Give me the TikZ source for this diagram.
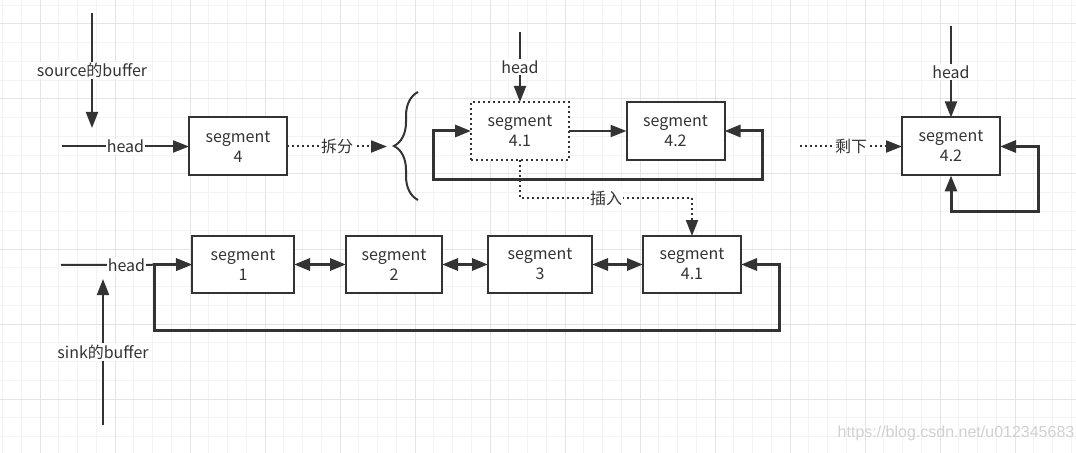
\documentclass[tikz,border=0pt]{standalone}
\usepackage{fontspec}
\setmainfont{Noto Sans CJK SC}
\newfontfamily\wmfont{Liberation Sans}
\usetikzlibrary{arrows.meta,calc,decorations.pathreplacing}
\definecolor{ink}{HTML}{333333}
\definecolor{gridminor}{HTML}{F3F3F3}
\definecolor{gridmajor}{HTML}{E4E4E4}

\begin{document}
\begin{tikzpicture}[x=0.75pt,y=-0.75pt,
  font=\fontsize{12}{15}\selectfont,
  >={Triangle[length=12pt,width=9pt]},
  seg/.style={draw=ink,line width=1.5pt,fill=white,text=ink,align=center,
    minimum width=73.5pt,minimum height=43.5pt,inner sep=0pt,outer sep=0pt},
  segdot/.style={seg,dash pattern=on 1.5pt off 2.25pt},
  segb/.style={seg,minimum height=42.75pt},
  link/.style={draw=ink,line width=1.5pt},
  ring/.style={draw=ink,line width=2.25pt},
  dotline/.style={draw=ink,line width=1.5pt,dash pattern=on 1.5pt off 2.25pt},
  lbl/.style={fill=white,text=ink,inner sep=1pt}]

% Background and grid
\fill[white] (0,0) rectangle (1076,453);
\useasboundingbox (0,0) rectangle (1076,453);
\foreach \k in {0,...,57} \draw[gridminor,line width=0.75pt] ({2.5+18.75*\k},0) -- ({2.5+18.75*\k},453);
\foreach \k in {0,...,23} \draw[gridminor,line width=0.75pt] (0,{5.25+18.75*\k}) -- (1076,{5.25+18.75*\k});
\foreach \k in {2,6,...,57} \draw[gridmajor,line width=0.75pt] ({2.5+18.75*\k},0) -- ({2.5+18.75*\k},453);
\foreach \k in {1,5,...,23} \draw[gridmajor,line width=0.75pt] (0,{5.25+18.75*\k}) -- (1076,{5.25+18.75*\k});

% Segments (source side)
\node[seg] (seg4) at (238,146.5) {segment\\4};
\node[segdot] (seg41) at (520,131) {segment\\4.1};
\node[seg] (seg42) at (675.5,131) {segment\\4.2};
\node[seg] (seg42r) at (951,146.5) {segment\\4.2};

% Segments (sink side)
\node[segb,minimum width=76.5pt] (seg1) at (243,264.5) {segment\\1};
\node[segb,minimum width=72pt] (seg2) at (394,264.5) {segment\\2};
\node[segb,minimum width=78pt] (seg3) at (540,264.5) {segment\\3};
\node[segb] (seg41b) at (692,264.5) {segment\\4.1};

% Free ends
\coordinate (srctop) at (92,13);
\coordinate (srcend) at (92,128);
\coordinate (h1) at (62,146.5);
\coordinate (brtip) at (387,146.5);
\coordinate (h2) at (520,32);
\coordinate (h4) at (951,26);
\coordinate (rest) at (800,146.5);
\coordinate (h3) at (61,265);
\coordinate (sinkbot) at (103,425);
\coordinate (sinkend) at (103,279);

% source buffer
\draw[link,->] (srctop) -- node[lbl]{source的buffer} (srcend);
\draw[link,->] (h1) -- node[lbl]{head} (seg4);
\draw[dotline,->] (seg4) -- node[lbl]{拆分} (brtip);
\draw[ink,line width=1.5pt,decorate,decoration={brace,amplitude=18pt}] (418,200) -- (418,92);

% split result
\draw[link,->] (h2) -- node[lbl]{head} (seg41);
\draw[link,->] (seg41) -- (seg42);
\draw[ring,<->] (seg42.east) -- ++(38,0) -- ++(0,49) -| ($(seg41.west)+(-38,0)$) -- (seg41.west);
\draw[dotline,->] (seg41.south) -- ++(0,38) -| node[lbl,pos=.25]{插入} (seg41b.north);

% what is left
\draw[link,->] (h4) -- node[lbl]{head} (seg42r);
\draw[dotline,->] (rest) -- node[lbl]{剩下} (seg42r);
\draw[ring,<->] (seg42r.east) -- ++(38,0) |- ($(seg42r.south)+(0,36)$) -- (seg42r.south);

% sink buffer
\draw[link,->] (h3) -- node[lbl]{head} (seg1);
\draw[link,->] (sinkbot) -- node[lbl]{sink的buffer} (sinkend);
\draw[ring,<->] (seg1) -- (seg2);
\draw[ring,<->] (seg2) -- (seg3);
\draw[ring,<->] (seg3) -- (seg41b);
\draw[ring,<->] (seg41b.east) -- ++(38,0) -- ++(0,66) -| ($(seg1.west)+(-38,0)$) -- (seg1.west);

% watermark
\node[font=\wmfont\fontsize{12}{14}\selectfont,text=black!18,anchor=west] (wm) at (833,433) {https://blog.csdn.net/u012345683};

\end{tikzpicture}
\end{document}
